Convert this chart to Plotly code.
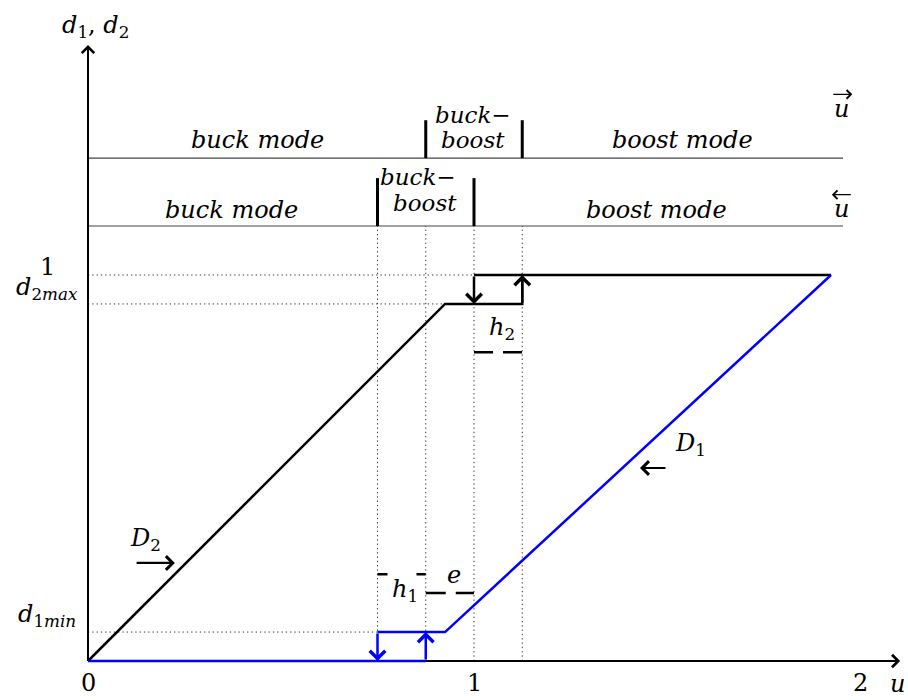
import plotly.graph_objects as go

# Duty cycles d1, d2 against the voltage ratio u
d2_max = 0.925          # upper limit of d2
d1_min = 0.075          # lower limit of d1
u_end = 1.925           # last plotted ratio
h1_band = [0.75, 0.875]     # buck <-> buck-boost hysteresis
e_band = [0.875, 1.0]
h2_band = [1.0, 1.125]      # buck-boost <-> boost hysteresis

# D2 (black): ramp, flat at d2_max, step to 1 at the h2 threshold
d2_u = [0, d2_max, h2_band[1], h2_band[1], u_end]
d2_v = [0, d2_max, d2_max, 1, 1]
d2_top_u = [h2_band[0], h2_band[1]]
d2_top_v = [1, 1]

# D1 (blue): zero, flat at d1_min, then ramp to 1
d1_low_u = [0, h1_band[1]]
d1_low_v = [0, 0]
d1_u = [h1_band[0], d2_max, u_end]
d1_v = [d1_min, d1_min, 1]

tick_vals = [0, 1, 2]
x_axis_end = 2.104
y_axis_end = 1.596
mode_line_end = 1.956
row_fwd = 1.303     # height of the "u increasing" mode row
row_bwd = 1.127     # height of the "u decreasing" mode row

BLUE = "#0000ff"
FONT = dict(family="DejaVu Serif", size=24, color="black")

fig = go.Figure()

shapes = []


def seg(x0, y0, x1, y1, color="black", width=1, dash="solid", layer="below"):
    shapes.append(dict(type="line", xref="x", yref="y", x0=x0, y0=y0, x1=x1, y1=y1,
                       line=dict(color=color, width=width, dash=dash), layer=layer))


# dotted guide lines
dots = "1.3px,3px"
for xv in [h1_band[0], h1_band[1], h2_band[0], h2_band[1]]:
    seg(xv, 0, xv, row_bwd, color="#333", width=1, dash=dots)
seg(0, 1, h2_band[0], 1, color="#333", width=1, dash=dots)
seg(0, d2_max, d2_max, d2_max, color="#333", width=1, dash=dots)
seg(0, d1_min, h1_band[0], d1_min, color="#333", width=1, dash=dots)

# mode rows
seg(0, row_fwd, mode_line_end, row_fwd, color="#444", width=1.2)
seg(0, row_bwd, mode_line_end, row_bwd, color="#444", width=1.2)
for xv in [h1_band[1], h2_band[1]]:
    seg(xv, row_fwd, xv, row_fwd + 0.098, width=3)
for xv in [h1_band[0], h2_band[0]]:
    seg(xv, row_bwd, xv, row_bwd + 0.124, width=3)

# hysteresis width markers
seg(h2_band[0], 0.8, h2_band[1], 0.8, width=2.5, dash="19px,10px", layer="above")
seg(h1_band[0], 0.225, h1_band[1], 0.225, width=2.5, dash="10px,29px", layer="above")
seg(e_band[0], 0.176, e_band[1], 0.176, width=2.5, dash="20px,10px", layer="above")

# axes
seg(0, 0, x_axis_end - 0.02, 0, width=2)
seg(0, 0, 0, y_axis_end - 0.02, width=2)

fig.add_trace(go.Scatter(x=d2_u, y=d2_v, mode="lines",
                         line=dict(color="black", width=2.5), hoverinfo="skip"))
fig.add_trace(go.Scatter(x=d2_top_u, y=d2_top_v, mode="lines",
                         line=dict(color="black", width=2.5), hoverinfo="skip"))
fig.add_trace(go.Scatter(x=d1_low_u, y=d1_low_v, mode="lines",
                         line=dict(color=BLUE, width=2.5), hoverinfo="skip"))
fig.add_trace(go.Scatter(x=d1_u, y=d1_v, mode="lines",
                         line=dict(color=BLUE, width=2.5), hoverinfo="skip"))

ann = []


def arrow(x0, y0, x1, y1, color="black", width=2.5, size=1.2):
    ann.append(dict(x=x1, y=y1, ax=x0, ay=y0, xref="x", yref="y", axref="x", ayref="y",
                    text="", showarrow=True, arrowhead=4, arrowsize=size,
                    arrowwidth=width, arrowcolor=color, standoff=0))


def label(x, y, text, size=24, height=None):
    a = dict(x=x, y=y, xref="x", yref="y", text=text, showarrow=False,
             font=dict(FONT, size=size), xanchor="center", yanchor="middle")
    if height:
        a["height"] = height
    ann.append(a)


# vertical jumps with direction arrows
arrow(h2_band[0], 1, h2_band[0], d2_max)
arrow(h2_band[1], d2_max, h2_band[1], 1)
arrow(h1_band[0], d1_min, h1_band[0], 0, color=BLUE)
arrow(h1_band[1], 0, h1_band[1], d1_min, color=BLUE)

# axis heads
arrow(x_axis_end - 0.05, 0, x_axis_end, 0, width=2)
arrow(0, y_axis_end - 0.05, 0, y_axis_end, width=2)

# curve labels with sweep direction
arrow(0.122, 0.254, 0.225, 0.254, width=2.2)
label(0.148, 0.315, "<i>D</i><sub>2</sub>")
arrow(1.5, 0.5, 1.43, 0.5, width=2.2)
label(1.56, 0.56, "<i>D</i><sub>1</sub>")

# hysteresis labels
label(1.073, 0.862, "<i>h</i><sub>2</sub>")
label(0.821, 0.183, "<i>h</i><sub>1</sub>")
label(0.948, 0.222, "<i>e</i>")

# mode rows
label(0.438, 1.35, "<i>buck mode</i>")
label(0.998, 1.416, "<i>buck−</i>", size=23, height=21)
label(0.998, 1.35, "<i>boost</i>", size=23, height=21)
label(1.541, 1.35, "<i>boost mode</i>")
label(0.373, 1.168, "<i>buck mode</i>")
label(0.855, 1.255, "<i>buck−</i>", size=23, height=21)
label(0.873, 1.188, "<i>boost</i>", size=23, height=21)
label(1.474, 1.168, "<i>boost mode</i>")

# sweep direction of u
label(1.953, 1.430, "<i>u</i>")
arrow(1.927, 1.468, 1.98, 1.468, width=1.3, size=1.3)
label(1.953, 1.170, "<i>u</i>")
arrow(1.98, 1.208, 1.927, 1.208, width=1.3, size=1.3)

# ticks and axis titles
for t in tick_vals:
    label(t, -0.057, str(t))
label(2.096, -0.06, "<i>u</i>")
label(0.02, 1.645, "<i>d</i><sub>1</sub>, <i>d</i><sub>2</sub>")
label(-0.106, 1.02, "1")
label(-0.106, 0.965, "<i>d</i><sub>2<i>max</i></sub>")
label(-0.106, 0.118, "<i>d</i><sub>1<i>min</i></sub>")

fig.update_layout(
    width=908, height=700,
    margin=dict(l=0, r=0, t=0, b=0),
    paper_bgcolor="white", plot_bgcolor="white",
    showlegend=False,
    shapes=shapes, annotations=ann,
    xaxis=dict(range=[-88 / 386, -88 / 386 + 908 / 386], visible=False, fixedrange=True),
    yaxis=dict(range=[-39 / 386, 661 / 386], visible=False, fixedrange=True),
)

fig.write_html("out.html")
